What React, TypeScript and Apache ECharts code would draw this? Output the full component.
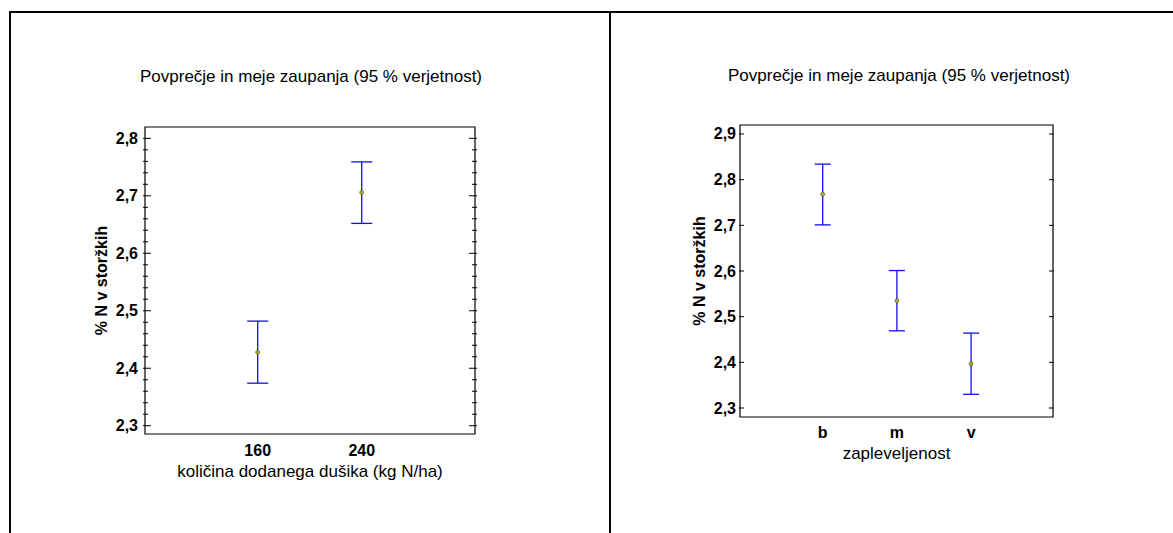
import React, { useEffect, useRef } from "react";
import * as echarts from "echarts";

const titleText = "Povprečje in meje zaupanja (95 % verjetnost)";
const yName = "% N v storžkih";

const leftCategories = ["160", "240"];
const leftMeans = [2.428, 2.706];
const leftLower = [2.374, 2.652];
const leftUpper = [2.482, 2.759];
const leftXName = "količina dodanega dušika (kg N/ha)";
const leftMajorTicks = [2.3, 2.4, 2.5, 2.6, 2.7, 2.8];
const leftMinorTicks = [
  2.32, 2.34, 2.36, 2.38, 2.42, 2.44, 2.46, 2.48, 2.52, 2.54, 2.56, 2.58,
  2.62, 2.64, 2.66, 2.68, 2.72, 2.74, 2.76, 2.78,
];

const rightCategories = ["b", "m", "v"];
const rightMeans = [2.768, 2.535, 2.397];
const rightLower = [2.701, 2.469, 2.33];
const rightUpper = [2.834, 2.601, 2.464];
const rightXName = "zapleveljenost";
const rightMajorTicks = [2.3, 2.4, 2.5, 2.6, 2.7, 2.8, 2.9];

const FONT = "'Liberation Sans', Arial, sans-serif";
const fmt = (v: number) => v.toFixed(1).replace(".", ",");

export default function App() {
  const ref = useRef<HTMLDivElement>(null);
  useEffect(() => {
    if (!ref.current) return;
    const chart = echarts.init(ref.current, undefined, { renderer: "svg" });

    const leftX = leftCategories.map((_, i) => i + 1);
    const rightX = rightCategories.map((_, i) => i + 1);

    const errBar = (capW: number) => (params: any, api: any) => {
      const x = api.value(0);
      const lo = api.coord([x, api.value(1)]);
      const hi = api.coord([x, api.value(2)]);
      const st = { stroke: "#1010f0", lineWidth: 1.3 };
      return {
        type: "group",
        children: [
          { type: "line", shape: { x1: lo[0], y1: lo[1], x2: hi[0], y2: hi[1] }, style: st },
          { type: "line", shape: { x1: lo[0] - capW / 2, y1: lo[1], x2: lo[0] + capW / 2, y2: lo[1] }, style: st },
          { type: "line", shape: { x1: hi[0] - capW / 2, y1: hi[1], x2: hi[0] + capW / 2, y2: hi[1] }, style: st },
        ],
      };
    };

    // tick marks on both vertical sides of the plot frame
    const tickMarks = (outLen: number) => (params: any, api: any) => {
      const cs = params.coordSys;
      const y = api.coord([api.value(0), api.value(1)])[1];
      const len = api.value(2);
      const st = { stroke: "#000", lineWidth: 1 };
      const l = cs.x;
      const r = cs.x + cs.width;
      return {
        type: "group",
        children: [
          { type: "line", shape: { x1: l - outLen, y1: y, x2: l + len, y2: y }, style: st },
          { type: "line", shape: { x1: r - len, y1: y, x2: r + outLen, y2: y }, style: st },
        ],
      };
    };

    const LMIN = 2.2856, LMAX = 2.8197;
    const RMIN = 2.2803, RMAX = 2.9197;

    const xLabel = (cats: string[], margin: number) => ({
      customValues: cats.map((_, i) => i + 1),
      formatter: (v: number) => cats[Math.round(v) - 1] ?? "",
      fontFamily: FONT,
      fontSize: 16,
      fontWeight: "bold",
      color: "#000",
      margin,
    });

    const option: any = {
      animation: false,
      backgroundColor: "#fff",
      grid: [
        { left: 145, top: 127, width: 330, height: 307, show: true, borderColor: "#000", borderWidth: 1.2, backgroundColor: "transparent" },
        { left: 740, top: 125, width: 313, height: 292, show: true, borderColor: "#000", borderWidth: 1.2, backgroundColor: "transparent" },
      ],
      xAxis: [
        {
          type: "value",
          gridIndex: 0,
          min: -0.0837,
          max: 3.089,
          splitLine: { show: false },
          axisLine: { show: false },
          axisTick: { show: false },
          axisLabel: xLabel(leftCategories, 8),
          name: leftXName,
          nameLocation: "middle",
          nameGap: 29,
          nameTextStyle: { fontFamily: FONT, fontSize: 17, color: "#000" },
        },
        {
          type: "value",
          gridIndex: 1,
          min: -0.1146,
          max: 4.104,
          splitLine: { show: false },
          axisLine: { show: false },
          axisTick: { show: false },
          axisLabel: xLabel(rightCategories, 7),
          name: rightXName,
          nameLocation: "middle",
          nameGap: 27,
          nameTextStyle: { fontFamily: FONT, fontSize: 17, color: "#000" },
        },
      ],
      yAxis: [
        {
          type: "value",
          gridIndex: 0,
          min: LMIN,
          max: LMAX,
          position: "left",
          splitLine: { show: false },
          axisLine: { show: false },
          axisTick: { show: false },
          axisLabel: { customValues: leftMajorTicks, formatter: fmt, fontFamily: FONT, fontSize: 16, fontWeight: "bold", color: "#000", margin: 7 },
          name: yName,
          nameLocation: "middle",
          nameGap: 36,
          nameTextStyle: { fontFamily: FONT, fontSize: 16, fontWeight: "bold", color: "#000" },
        },
        {
          type: "value",
          gridIndex: 1,
          min: RMIN,
          max: RMAX,
          position: "left",
          splitLine: { show: false },
          axisLine: { show: false },
          axisTick: { show: false },
          axisLabel: { customValues: rightMajorTicks, formatter: fmt, fontFamily: FONT, fontSize: 16, fontWeight: "bold", color: "#000", margin: 4 },
          name: yName,
          nameLocation: "middle",
          nameGap: 33,
          nameTextStyle: { fontFamily: FONT, fontSize: 16, fontWeight: "bold", color: "#000" },
        },
      ],
      series: [
        {
          type: "custom",
          xAxisIndex: 0,
          yAxisIndex: 0,
          renderItem: tickMarks(2),
          encode: { x: 0, y: 1 },
          data: [
            ...leftMajorTicks.map((v) => [1, v, 6]),
            ...leftMinorTicks.map((v) => [1, v, 3]),
          ],
          silent: true,
          z: 1,
        },
        {
          type: "custom",
          xAxisIndex: 1,
          yAxisIndex: 1,
          renderItem: tickMarks(1),
          encode: { x: 0, y: 1 },
          data: rightMajorTicks.map((v) => [1, v, 4]),
          silent: true,
          z: 1,
        },
        {
          type: "custom",
          xAxisIndex: 0,
          yAxisIndex: 0,
          renderItem: errBar(21),
          encode: { x: 0, y: [1, 2] },
          data: leftX.map((x, i) => [x, leftLower[i], leftUpper[i]]),
          z: 2,
        },
        {
          type: "scatter",
          xAxisIndex: 0,
          yAxisIndex: 0,
          symbol: "circle",
          symbolSize: 4,
          itemStyle: { color: "#b0b030", borderColor: "#404000", borderWidth: 0.6, opacity: 1 },
          data: leftX.map((x, i) => [x, leftMeans[i]]),
          z: 3,
        },
        {
          type: "custom",
          xAxisIndex: 1,
          yAxisIndex: 1,
          renderItem: errBar(16),
          encode: { x: 0, y: [1, 2] },
          data: rightX.map((x, i) => [x, rightLower[i], rightUpper[i]]),
          z: 2,
        },
        {
          type: "scatter",
          xAxisIndex: 1,
          yAxisIndex: 1,
          symbol: "circle",
          symbolSize: 4,
          itemStyle: { color: "#b0b030", borderColor: "#404000", borderWidth: 0.6, opacity: 1 },
          data: rightX.map((x, i) => [x, rightMeans[i]]),
          z: 3,
        },
      ],
      graphic: [
        { type: "line", shape: { x1: 9, y1: 12, x2: 1173, y2: 12 }, style: { stroke: "#000", lineWidth: 2 } },
        { type: "line", shape: { x1: 10, y1: 11, x2: 10, y2: 533 }, style: { stroke: "#000", lineWidth: 2 } },
        { type: "line", shape: { x1: 610, y1: 11, x2: 610, y2: 533 }, style: { stroke: "#000", lineWidth: 2 } },
        {
          type: "text",
          x: 311,
          y: 76,
          style: { text: titleText, fontFamily: FONT, fontSize: 17, fill: "#000", textAlign: "center", textVerticalAlign: "middle" },
        },
        {
          type: "text",
          x: 899,
          y: 75,
          style: { text: titleText, fontFamily: FONT, fontSize: 17, fill: "#000", textAlign: "center", textVerticalAlign: "middle" },
        },
      ],
    };

    chart.setOption(option);
    return () => chart.dispose();
  }, []);

  return (
    <div
      ref={ref}
      style={{ position: "fixed", left: 0, top: 0, width: 1173, height: 533, background: "#fff" }}
    />
  );
}
